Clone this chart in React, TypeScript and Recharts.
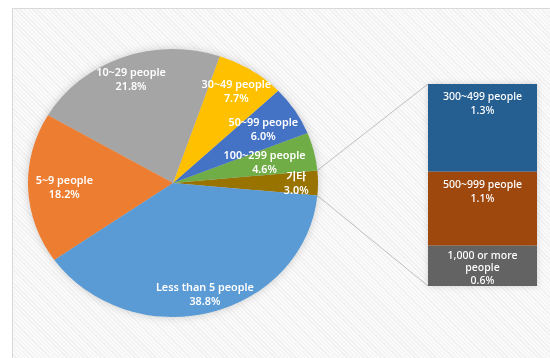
import React from 'react';
import { PieChart, Pie, Cell, BarChart, Bar, XAxis, YAxis, LabelList } from 'recharts';

const pieNames = ['기타', '100~299 people', '50~99 people', '30~49 people', '10~29 people', '5~9 people', 'Less than 5 people'];
const pieValues = [3.0, 4.6, 6.0, 7.7, 21.8, 18.2, 38.8];
const PIE_COLORS = ['#997300', '#70ad47', '#4472c4', '#ffc000', '#a5a5a5', '#ed7d31', '#5b9bd5'];

// breakdown of the "기타" slice, bottom to top
const barNames = ['1,000 or more people', '500~999 people', '300~499 people'];
const barValues = [0.6, 1.1, 1.3];
const barLabelLines = [['1,000 or more', 'people'], ['500~999 people'], ['300~499 people']];
const BAR_COLORS = ['#636363', '#9e480e', '#255e91'];

// how far out each pie label sits (fraction of radius)
const labelRadius: Record<string, number> = {
  '기타': 0.85,
  '100~299 people': 0.65,
  '50~99 people': 0.74,
  '30~49 people': 0.81,
  '10~29 people': 0.83,
  '5~9 people': 0.75,
  'Less than 5 people': 0.86,
};

const W = 550;
const H = 358;
const CX = 173;
const CY = 183;
const RY = 134;
const RX = 145;
const SX = RX / RY;
const RAD = Math.PI / 180;

const otherShare = pieValues[0] / pieValues.reduce((a, b) => a + b, 0);
const START = -otherShare * 180;

const BAR_X = 428;
const BAR_Y = 84;
const BAR_W = 109;
const BAR_H = 202;

const FONT = "'Noto Sans', 'Noto Sans CJK KR', sans-serif";

const pieData = pieNames.map((name, i) => ({ name, value: pieValues[i] }));
const barRow: Record<string, number | string> = { name: '기타' };
barNames.forEach((n, i) => (barRow[n] = barValues[i]));
const barData = [barRow];

const renderPieLabel = (props: any) => {
  const { cx, cy, midAngle, outerRadius, name, value } = props;
  const r = outerRadius * (labelRadius[name] ?? 0.8);
  const x = cx + r * Math.cos(-midAngle * RAD);
  const y = cy + r * Math.sin(-midAngle * RAD);
  return (
    <text
      x={x}
      y={y}
      fill="#fff"
      textAnchor="middle"
      fontFamily={FONT}
      fontSize={10}
      fontWeight={600}
    >
      <tspan x={x} y={y - 7} dominantBaseline="central">{name}</tspan>
      <tspan x={x} y={y + 7} dominantBaseline="central">{Number(value).toFixed(1)}%</tspan>
    </text>
  );
};

const makeBarLabel = (idx: number) => (props: any) => {
  const { x, y, width, value } = props;
  const lines = [...barLabelLines[idx], `${Number(value).toFixed(1)}%`];
  const mx = x + width / 2;
  // the smallest segment gets its lines packed a bit tighter so they all fit
  const step = lines.length > 2 ? 12.5 : 14;
  const top = lines.length > 2 ? 9 : 12;
  return (
    <text fill="#fff" textAnchor="middle" fontFamily={FONT} fontSize={10.5} fontWeight={500}>
      {lines.map((l, i) => (
        <tspan key={i} x={mx} y={y + top + i * step} dominantBaseline="central">
          {l}
        </tspan>
      ))}
    </text>
  );
};

export default function App() {
  const topA = -START * RAD;
  const botA = START * RAD;
  const p1 = { x: CX + RX * Math.cos(topA), y: CY - RY * Math.sin(topA) };
  const p2 = { x: CX + RX * Math.cos(botA), y: CY - RY * Math.sin(botA) };

  return (
    <div style={{ position: 'absolute', left: 0, top: 0, width: W, height: H, background: '#fff', overflow: 'hidden' }}>
      {/* chart area frame with hatched fill */}
      <div
        style={{
          position: 'absolute',
          left: 12,
          top: 8,
          width: W,
          height: H - 9,
          border: '1px solid #d9d9d9',
          background: 'repeating-linear-gradient(45deg, #fafafa 0px, #fafafa 2px, #f0f0f0 2px, #f0f0f0 3px)',
        }}
      />

      {/* connector lines between pie and breakdown bar */}
      <svg width={W} height={H} style={{ position: 'absolute', left: 0, top: 0 }}>
        <line x1={p1.x} y1={p1.y} x2={BAR_X} y2={BAR_Y} stroke="#bfbfbf" strokeWidth={1} />
        <line x1={p2.x} y1={p2.y} x2={BAR_X} y2={BAR_Y + BAR_H} stroke="#bfbfbf" strokeWidth={1} />
      </svg>

      {/* pie, stretched a little sideways like the original */}
      <div
        style={{
          position: 'absolute',
          left: 0,
          top: 0,
          transform: `scaleX(${SX})`,
          transformOrigin: `${CX}px ${CY}px`,
          filter: 'drop-shadow(0 0 4px rgba(0,0,0,0.18))',
        }}
      >
        <PieChart width={340} height={H} margin={{ top: 0, right: 0, bottom: 0, left: 0 }}>
          <Pie
            data={pieData}
            dataKey="value"
            nameKey="name"
            cx={CX}
            cy={CY}
            outerRadius={RY}
            startAngle={START}
            endAngle={START + 360}
            stroke="none"
            labelLine={false}
            label={renderPieLabel}
            isAnimationActive={false}
          >
            {pieData.map((d, i) => (
              <Cell key={d.name} fill={PIE_COLORS[i]} />
            ))}
          </Pie>
        </PieChart>
      </div>

      {/* breakdown bar */}
      <div style={{ position: 'absolute', left: BAR_X, top: BAR_Y, filter: 'drop-shadow(0 0 3px rgba(0,0,0,0.15))' }}>
        <BarChart
          width={BAR_W}
          height={BAR_H}
          data={barData}
          margin={{ top: 0, right: 0, bottom: 0, left: 0 }}
          barCategoryGap={0}
          style={{ overflow: 'visible' }}
        >
          <XAxis dataKey="name" hide />
          <YAxis hide domain={[0, 3.0]} />
          {barNames.map((n, i) => (
            <Bar key={n} dataKey={n} stackId="a" fill={BAR_COLORS[i]} isAnimationActive={false}>
              <LabelList dataKey={n} content={makeBarLabel(i)} />
            </Bar>
          ))}
        </BarChart>
      </div>
    </div>
  );
}
